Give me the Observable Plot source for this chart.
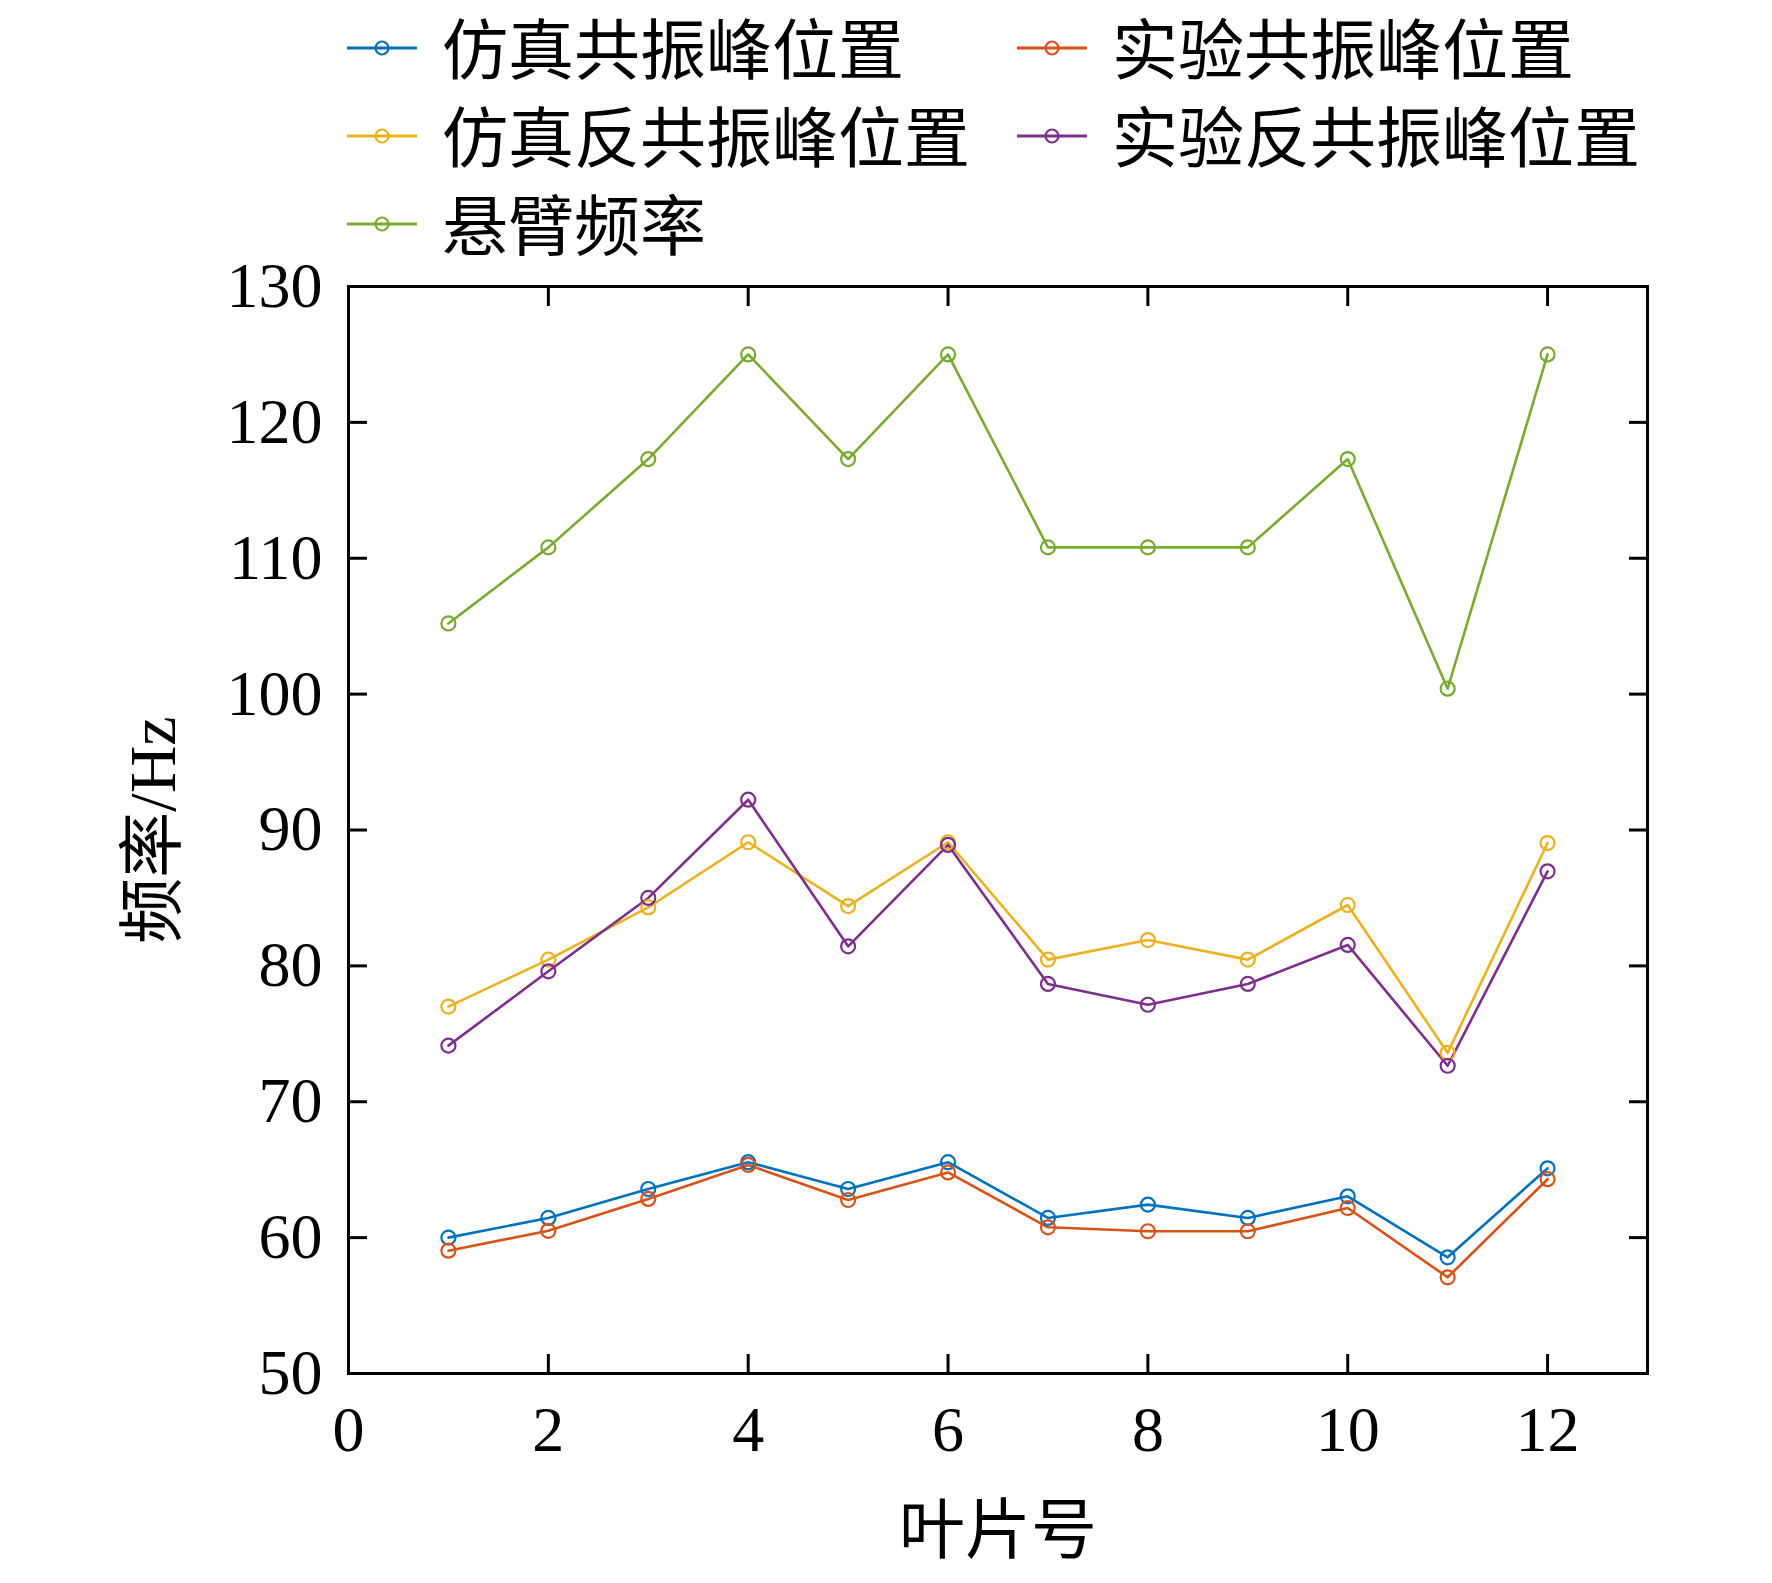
<!DOCTYPE html>
<html><head><meta charset="utf-8">
<script src="https://cdn.jsdelivr.net/npm/d3@7"></script>
<script src="https://cdn.jsdelivr.net/npm/@observablehq/plot@0.6"></script>
<style>
body{margin:0;background:#fff;}
#wrap{width:1772px;}
#legend{position:relative;width:1772px;height:250px;}
.item{position:absolute;display:flex;align-items:center;height:80px;font-family:'Noto Sans CJK SC',sans-serif;font-size:66px;color:#000;white-space:nowrap;line-height:1;}
.item svg{margin-right:25px;}
.item span{position:relative;top:-3px;}
</style></head><body>
<div id="wrap"><div id="legend"></div><div id="chart"></div></div>
<script>
// ---- data ----
const blades = [1, 2, 3, 4, 5, 6, 7, 8, 9, 10, 11, 12];
const simResonance     = [60.0, 61.45, 63.58, 65.55, 63.58, 65.55, 61.45, 62.43, 61.45, 63.04, 58.55, 65.1];
const expResonance     = [59.04, 60.5, 62.85, 65.35, 62.77, 64.8, 60.76, 60.47, 60.47, 62.18, 57.08, 64.3];
const simAntiResonance = [77.0, 80.46, 84.3, 89.1, 84.4, 89.1, 80.46, 81.9, 80.46, 84.48, 73.6, 89.04];
const expAntiResonance = [74.13, 79.6, 85.0, 92.23, 81.44, 88.9, 78.67, 77.14, 78.67, 81.54, 72.65, 86.96];
const cantileverFreq   = [105.2, 110.8, 117.3, 125, 117.3, 125, 110.8, 110.8, 110.8, 117.3, 100.4, 125];
const seriesNames = ["仿真共振峰位置", "实验共振峰位置", "仿真反共振峰位置", "实验反共振峰位置", "悬臂频率"];
const seriesColors = ["#0072BD", "#D95319", "#EDB120", "#7E2F8E", "#77AC30"];
const xTicks = [0, 2, 4, 6, 8, 10, 12];
const yTicks = [50, 60, 70, 80, 90, 100, 110, 120, 130];
const xLabel = "叶片号";
const yLabel = "频率/Hz";

const seriesValues = [simResonance, expResonance, simAntiResonance, expAntiResonance, cantileverFreq];
const rows = seriesNames.flatMap((s, k) => blades.map((b, i) => ({blade: b, value: seriesValues[k][i], series: s})));

// ---- legend (HTML) ----
const legend = document.getElementById("legend");
const legendPos = [[347, 8], [1017, 8], [347, 96], [1017, 96], [347, 184]];
seriesNames.forEach((name, k) => {
  const d = document.createElement("div");
  d.className = "item";
  d.style.left = legendPos[k][0] + "px";
  d.style.top = legendPos[k][1] + "px";
  const c = seriesColors[k];
  d.innerHTML = `<svg width="70" height="20"><line x1="0" y1="10" x2="70" y2="10" stroke="${c}" stroke-width="3"/><circle cx="35" cy="10" r="6.5" fill="none" stroke="${c}" stroke-width="2.2"/></svg><span>${name}</span>`;
  legend.appendChild(d);
});

// ---- chart ----
const chart = Plot.plot({
  width: 1772,
  height: 1333,
  marginTop: 36,
  marginBottom: 210,
  marginLeft: 348,
  marginRight: 125,
  style: {fontFamily: "'Liberation Serif','Noto Sans CJK SC',serif", fontSize: "64px", color: "#000", background: "#fff", overflow: "visible"},
  x: {domain: [0, 13]},
  y: {domain: [50, 130]},
  color: {domain: seriesNames, range: seriesColors},
  marks: [
    Plot.axisX(xTicks, {anchor: "bottom", tickSize: 0, tickPadding: 32, label: null}),
    Plot.axisY(yTicks, {anchor: "left", tickSize: 0, tickPadding: 26, label: null}),
    Plot.axisX(xTicks, {anchor: "bottom", tickSize: -19, strokeWidth: 3, tickFormat: () => "", label: null}),
    Plot.axisX(xTicks, {anchor: "top", tickSize: -19, strokeWidth: 3, tickFormat: () => "", label: null}),
    Plot.axisY(yTicks, {anchor: "left", tickSize: -19, strokeWidth: 3, tickFormat: () => "", label: null}),
    Plot.axisY(yTicks, {anchor: "right", tickSize: -19, strokeWidth: 3, tickFormat: () => "", label: null}),
    Plot.line(rows, {x: "blade", y: "value", z: "series", stroke: "series", strokeWidth: 2.6}),
    Plot.dot(rows, {x: "blade", y: "value", stroke: "series", fill: "none", r: 7, strokeWidth: 2.2}),
    Plot.frame({stroke: "#000", strokeWidth: 3}),
    Plot.text([xLabel], {frameAnchor: "bottom", dy: 158, lineAnchor: "middle", textAnchor: "middle", fontSize: 66, fill: "#000"}),
    Plot.text([yLabel], {frameAnchor: "left", dx: -195, rotate: -90, textAnchor: "middle", lineAnchor: "middle", fontSize: 66, fill: "#000"})
  ]
});
document.getElementById("chart").appendChild(chart);
</script>
</body></html>
